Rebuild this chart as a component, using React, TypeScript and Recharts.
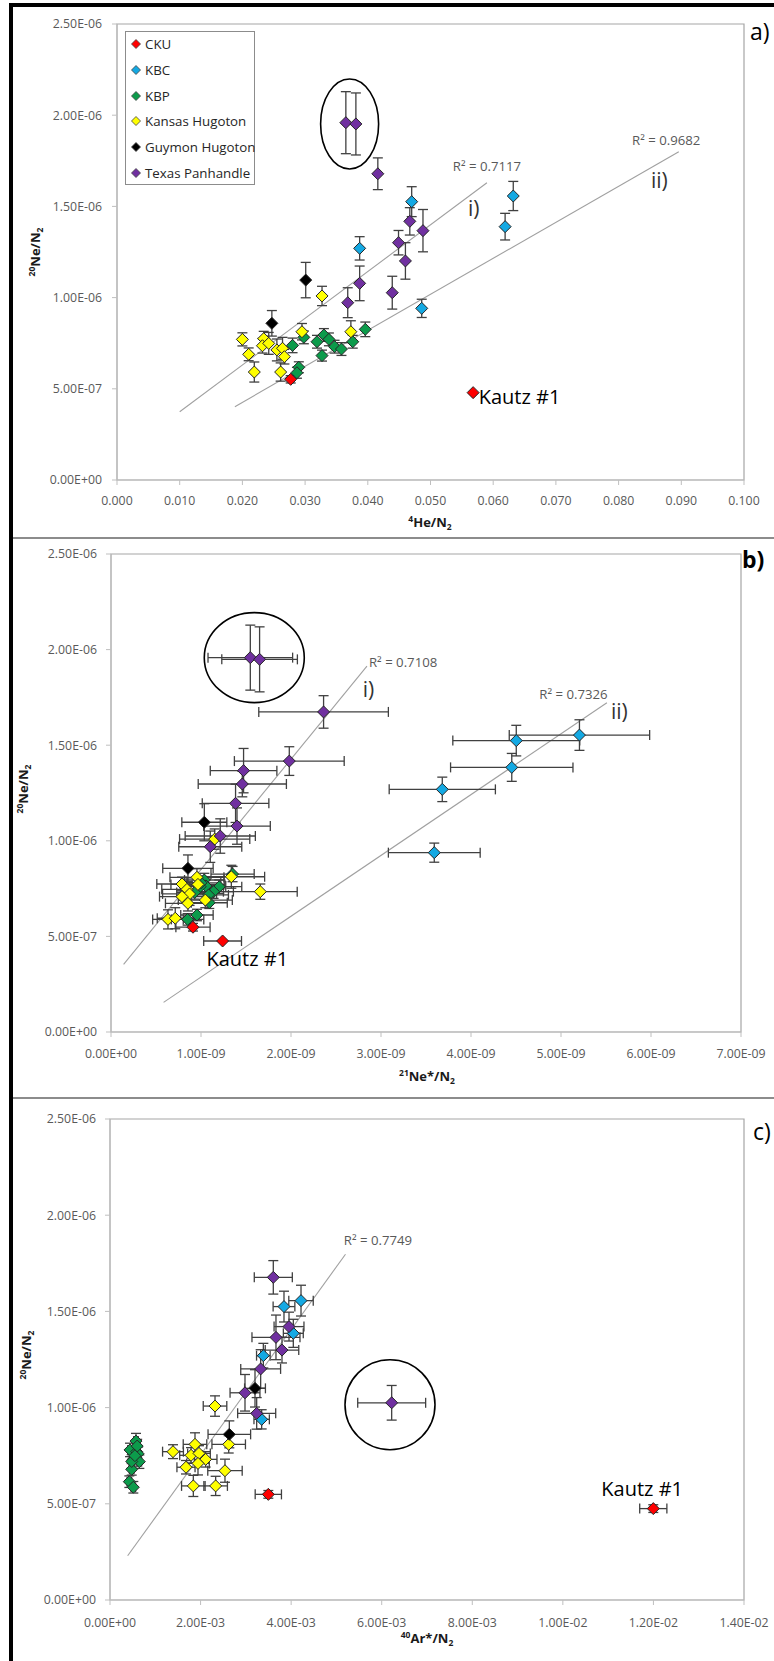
import React from 'react';
import { ScatterChart, Scatter, XAxis, YAxis, ErrorBar, ReferenceLine, ReferenceArea } from 'recharts';

const FONT = "'Open Sans', 'Noto Sans', sans-serif";

// ---------- categories ----------
const SERIES = ['CKU', 'KBC', 'KBP', 'Kansas Hugoton', 'Guymon Hugoton', 'Texas Panhandle'];
const COLORS = ['#ff0000', '#14a9e3', '#0c9b4b', '#ffff00', '#000000', '#7030a0'];

// ---------- tick values ----------
const Y_TICKS = [0, 5e-7, 1e-6, 1.5e-6, 2e-6, 2.5e-6];
const A_X_TICKS = [0, 0.01, 0.02, 0.03, 0.04, 0.05, 0.06, 0.07, 0.08, 0.09, 0.1];
const B_X_TICKS = [0, 1e-9, 2e-9, 3e-9, 4e-9, 5e-9, 6e-9, 7e-9];
const C_X_TICKS = [0, 2e-3, 4e-3, 6e-3, 8e-3, 1e-2, 1.2e-2, 1.4e-2];

// ---------- panel a : [4He/N2, 20Ne/N2 (1e-6), err (1e-6)] ----------
const aCKU = [[0.0277, 0.552, 0.02], [0.0568, 0.479, 0]];
const aKBC = [[0.0387, 1.27, 0.064], [0.047, 1.526, 0.082], [0.0632, 1.557, 0.08], [0.0619, 1.389, 0.073], [0.0486, 0.941, 0.05]];
const aKBP = [[0.028, 0.738, 0.04], [0.029, 0.618, 0.03], [0.0287, 0.588, 0.03], [0.0298, 0.782, 0.035], [0.0319, 0.758, 0.035], [0.0327, 0.682, 0.03], [0.033, 0.795, 0.035], [0.0338, 0.771, 0.035], [0.0347, 0.731, 0.035], [0.0358, 0.718, 0.035], [0.0376, 0.758, 0.035], [0.0396, 0.826, 0.04]];
const aKH = [[0.02, 0.771, 0.036], [0.021, 0.689, 0.035], [0.0219, 0.592, 0.055], [0.0234, 0.775, 0.04], [0.0232, 0.736, 0.04], [0.0242, 0.749, 0.06], [0.0255, 0.713, 0.06], [0.0264, 0.722, 0.06], [0.0267, 0.676, 0.04], [0.0261, 0.592, 0.05], [0.0295, 0.813, 0.045], [0.0327, 1.009, 0.053], [0.0373, 0.813, 0.06]];
const aGH = [[0.0247, 0.859, 0.07], [0.0301, 1.096, 0.097]];
const aTP = [[0.0368, 0.972, 0.082], [0.0387, 1.078, 0.095], [0.0439, 1.027, 0.09], [0.0449, 1.301, 0.067], [0.0467, 1.418, 0.075], [0.0488, 1.367, 0.116], [0.046, 1.201, 0.1], [0.0416, 1.679, 0.087], [0.0365, 1.959, 0.17], [0.0381, 1.952, 0.17]];

// ---------- panel b : [21Ne*/N2 (1e-9), 20Ne/N2 (1e-6), errY (1e-6), errX (1e-9)] ----------
const bCKU = [[0.911, 0.548, 0.02, 0.19], [1.24, 0.476, 0, 0.21]];
const bKBC = [[4.503, 1.524, 0.08, 0.705], [5.205, 1.553, 0.08, 0.78], [4.453, 1.384, 0.073, 0.68], [3.681, 1.269, 0.064, 0.59], [3.592, 0.938, 0.05, 0.51]];
const bKBP = [[1.351, 0.826, 0.04, 0.24], [1.037, 0.795, 0.035, 0.22], [1.055, 0.764, 0.035, 0.22], [1.203, 0.76, 0.035, 0.25], [1.14, 0.734, 0.035, 0.22], [1.085, 0.717, 0.035, 0.22], [1.092, 0.676, 0.03, 0.2], [0.851, 0.589, 0.03, 0.18], [0.955, 0.612, 0.03, 0.18], [0.99, 0.76, 0.035, 0.22], [0.93, 0.73, 0.035, 0.2], [1.0, 0.78, 0.035, 0.22]];
const bKH = [[1.659, 0.734, 0.04, 0.41], [1.337, 0.812, 0.06, 0.37], [1.152, 1.009, 0.053, 0.39], [0.955, 0.809, 0.045, 0.3], [0.789, 0.774, 0.036, 0.28], [0.966, 0.772, 0.04, 0.3], [0.844, 0.746, 0.06, 0.28], [0.873, 0.722, 0.06, 0.3], [0.789, 0.708, 0.035, 0.25], [1.048, 0.69, 0.04, 0.3], [0.855, 0.673, 0.04, 0.25], [0.633, 0.589, 0.05, 0.17], [0.714, 0.595, 0.055, 0.2]];
const bGH = [[1.037, 1.097, 0.097, 0.25], [0.855, 0.856, 0.07, 0.28]];
const bTP = [[1.548, 1.958, 0.17, 0.47], [1.651, 1.949, 0.17, 0.42], [2.362, 1.674, 0.085, 0.72], [1.981, 1.417, 0.075, 0.61], [1.473, 1.367, 0.116, 0.37], [1.459, 1.297, 0.067, 0.49], [1.384, 1.196, 0.1, 0.37], [1.4, 1.077, 0.095, 0.37], [1.214, 1.025, 0.09, 0.39], [1.103, 0.969, 0.082, 0.35]];

// ---------- panel c : [40Ar*/N2 (1e-3), 20Ne/N2 (1e-6), errY (1e-6), errX (1e-3)] ----------
const cCKU = [[3.496, 0.549, 0.02, 0.29], [11.997, 0.475, 0.02, 0.3]];
const cKBC = [[3.842, 1.525, 0.08, 0.24], [4.218, 1.556, 0.08, 0.27], [4.048, 1.386, 0.073, 0.22], [3.386, 1.27, 0.064, 0.15], [3.349, 0.939, 0.05, 0.17]];
const cKBP = [[0.574, 0.826, 0.04, 0.05], [0.442, 0.78, 0.035, 0.05], [0.589, 0.771, 0.035, 0.05], [0.62, 0.76, 0.035, 0.05], [0.515, 0.731, 0.035, 0.05], [0.648, 0.719, 0.035, 0.05], [0.479, 0.679, 0.03, 0.05], [0.427, 0.615, 0.03, 0.05], [0.515, 0.586, 0.03, 0.05], [0.6, 0.8, 0.035, 0.05], [0.48, 0.72, 0.035, 0.05], [0.55, 0.75, 0.035, 0.05]];
const cKH = [[2.319, 1.008, 0.053, 0.26], [2.621, 0.809, 0.045, 0.37], [1.877, 0.809, 0.06, 0.26], [1.391, 0.771, 0.036, 0.23], [1.789, 0.752, 0.04, 0.25], [1.965, 0.762, 0.04, 0.25], [2.112, 0.731, 0.04, 0.25], [1.943, 0.71, 0.06, 0.25], [1.678, 0.69, 0.035, 0.2], [2.539, 0.672, 0.06, 0.38], [1.84, 0.593, 0.055, 0.26], [2.333, 0.593, 0.05, 0.26]];
const cGH = [[3.202, 1.1, 0.097, 0.23], [2.635, 0.861, 0.07, 0.47]];
const cTP = [[3.606, 1.677, 0.087, 0.42], [3.665, 1.365, 0.116, 0.53], [3.953, 1.421, 0.075, 0.33], [3.798, 1.299, 0.067, 0.37], [3.327, 1.201, 0.1, 0.44], [2.981, 1.077, 0.095, 0.33], [3.239, 0.97, 0.082, 0.42], [6.22, 1.025, 0.09, 0.75]];

// ---------- trend lines : [x1, y1(1e-6), x2, y2(1e-6)] ----------
const aTrends = [[0.01, 0.374, 0.059, 1.63], [0.0188, 0.402, 0.0896, 1.8]];
const bTrends = [[0.14, 0.354, 2.844, 1.914], [0.584, 0.155, 5.51, 1.722]];
const cTrends = [[0.39, 0.23, 5.2, 1.797]];

// ---------- annotations : [x, y(1e-6), text, kind] ----------
const aLabels = [[0.059, 1.718, 'R² = 0.7117', 'r2'], [0.0569, 1.49, 'i)', 'roman'], [0.0876, 1.864, 'R² = 0.9682', 'r2'], [0.0865, 1.645, 'ii)', 'roman'], [0.0642, 0.457, 'Kautz #1', 'kautz']];
const bLabels = [[3.246, 1.935, 'R² = 0.7108', 'r2'], [2.861, 1.792, 'i)', 'roman'], [5.138, 1.768, 'R² = 0.7326', 'r2'], [5.649, 1.675, 'ii)', 'roman'], [1.514, 0.383, 'Kautz #1', 'kautz']];
const cLabels = [[5.918, 1.871, 'R² = 0.7749', 'r2'], [11.752, 0.576, 'Kautz #1', 'kautz']];

// circled outliers : [x, y(1e-6)]
const aCircle = [0.0371, 1.952];
const bCircle = [1.592, 1.958];
const cCircle = [6.183, 1.015];

// ---------- helpers ----------
const LABEL_STYLE: Record<string, { fs: number; fill: string }> = {
  r2: { fs: 13.2, fill: '#595959' },
  roman: { fs: 21, fill: '#333333' },
  kautz: { fs: 20, fill: '#000000' },
};

const sci = (v: number) => {
  if (v === 0) return '0.00E+00';
  const [m, e] = v.toExponential(2).split('e');
  const n = parseInt(e, 10);
  return `${m}E${n < 0 ? '-' : '+'}${String(Math.abs(n)).padStart(2, '0')}`;
};
const fixed3 = (v: number) => v.toFixed(3);

const rows = (arr: number[][], xu: number) =>
  arr.map(([x, y, ey, ex]) => ({ x: x * xu, y: y * 1e-6, ey: ey ? ey * 1e-6 : 0, ex: ex ? ex * xu : 0 }));

const diamond = (fill: string, r = 6) => (p: any) => {
  const { cx, cy } = p;
  if (cx == null || cy == null) return <g />;
  return (
    <polygon
      points={`${cx},${cy - r} ${cx + r},${cy} ${cx},${cy + r} ${cx - r},${cy}`}
      fill={fill}
      stroke="#262626"
      strokeWidth={1}
    />
  );
};

const ellipseShape = (rx: number, ry: number) => (p: any) => {
  const { cx, cy } = p;
  if (cx == null || cy == null) return <g />;
  return <ellipse cx={cx} cy={cy} rx={rx} ry={ry} fill="none" stroke="#000" strokeWidth={1.6} />;
};

const textShape = (p: any) => {
  const { cx, cy, payload } = p;
  if (cx == null || cy == null) return <g />;
  const st = LABEL_STYLE[payload.kind];
  return (
    <text x={cx} y={cy + st.fs * 0.36} textAnchor="middle" fontFamily={FONT} fontSize={st.fs} fill={st.fill}>
      {payload.text}
    </text>
  );
};

const TICK = { fill: '#595959', fontSize: 12.3, fontFamily: FONT };

type PanelProps = {
  top: number;
  height: number;
  mt: number;
  mr: number;
  yw: number;
  xh: number;
  xMax: number;
  xu: number;
  xTicks: number[];
  xFmt: (v: number) => string;
  series: number[][][];
  hasEx: boolean;
  trends: number[][];
  labels: any[][];
  circle: number[];
  rx: number;
  ry: number;
  tmX: number;
  tmY: number;
};

function Panel(p: PanelProps) {
  const labelData = p.labels.map(([x, y, text, kind]) => ({ x: x * p.xu, y: y * 1e-6, text, kind }));
  const circleData = [{ x: p.circle[0] * p.xu, y: p.circle[1] * 1e-6 }];
  return (
    <div style={{ position: 'absolute', left: 0, top: p.top, width: 774, height: p.height }}>
      <ScatterChart width={774} height={p.height} margin={{ top: p.mt, right: p.mr, bottom: 0, left: 0 }}>
        <ReferenceArea x1={0} x2={p.xMax} y1={0} y2={2.5e-6} fill="none" stroke="#a6a6a6" strokeWidth={1.2} />
        <XAxis
          type="number"
          dataKey="x"
          domain={[0, p.xMax]}
          ticks={p.xTicks}
          tickFormatter={p.xFmt}
          allowDataOverflow
          interval={0}
          height={p.xh}
          stroke="#bfbfbf"
          tick={TICK}
          tickSize={5}
          tickMargin={p.tmX}
        />
        <YAxis
          type="number"
          dataKey="y"
          domain={[0, 2.5e-6]}
          ticks={Y_TICKS}
          tickFormatter={sci}
          allowDataOverflow
          interval={0}
          width={p.yw}
          stroke="#bfbfbf"
          tick={TICK}
          tickSize={5}
          tickMargin={p.tmY}
        />
        {p.trends.map((t, i) => (
          <ReferenceLine
            key={'t' + i}
            segment={[
              { x: t[0] * p.xu, y: t[1] * 1e-6 },
              { x: t[2] * p.xu, y: t[3] * 1e-6 },
            ]}
            stroke="#a0a0a0"
            strokeWidth={1.1}
          />
        ))}
        {p.series.map((s, i) => (
          <Scatter key={SERIES[i]} name={SERIES[i]} data={rows(s, p.xu)} shape={diamond(COLORS[i])} isAnimationActive={false}>
            <ErrorBar dataKey="ey" direction="y" width={5} stroke="#404040" strokeWidth={1.3} />
            {p.hasEx ? <ErrorBar dataKey="ex" direction="x" width={5} stroke="#404040" strokeWidth={1.3} /> : null}
          </Scatter>
        ))}
        <Scatter data={circleData} shape={ellipseShape(p.rx, p.ry)} isAnimationActive={false} />
        <Scatter data={labelData} shape={textShape} isAnimationActive={false} />
      </ScatterChart>
    </div>
  );
}

const Sup = ({ children }: any) => <span style={{ fontSize: 8.5, verticalAlign: '5px' }}>{children}</span>;
const Sub = ({ children }: any) => <span style={{ fontSize: 8.5, verticalAlign: '-3px' }}>{children}</span>;

const AxisTitle = ({ x, y, rotate, children }: any) => (
  <div
    style={{
      position: 'absolute',
      left: x,
      top: y,
      transform: `translate(-50%, -50%)${rotate ? ' rotate(-90deg)' : ''}`,
      fontFamily: FONT,
      fontWeight: 700,
      fontSize: 13,
      whiteSpace: 'nowrap',
      color: '#1a1a1a',
      lineHeight: 1,
    }}
  >
    {children}
  </div>
);

const Corner = ({ x, y, bold, children }: any) => (
  <div
    style={{
      position: 'absolute',
      left: x,
      top: y,
      transform: 'translateY(-50%)',
      fontFamily: FONT,
      fontWeight: bold ? 700 : 400,
      fontSize: 23,
      lineHeight: 1,
      color: '#000',
    }}
  >
    {children}
  </div>
);

function LegendBox() {
  return (
    <div
      style={{
        position: 'absolute',
        left: 125,
        top: 31,
        width: 130,
        height: 154,
        border: '1px solid #8c8c8c',
        background: '#fff',
        boxSizing: 'border-box',
      }}
    >
      {SERIES.map((s, i) => (
        <div
          key={s}
          style={{ position: 'absolute', left: 4, top: 12.3 + i * 25.7 - 9, height: 18, display: 'flex', alignItems: 'center' }}
        >
          <svg width={12} height={12} style={{ display: 'block' }}>
            <polygon points="6,1.5 10.5,6 6,10.5 1.5,6" fill={COLORS[i]} stroke="#404040" strokeWidth={0.8} />
          </svg>
          <span style={{ marginLeft: 3, fontFamily: FONT, fontSize: 13.3, color: '#262626', whiteSpace: 'nowrap' }}>{s}</span>
        </div>
      ))}
    </div>
  );
}

export default function App() {
  return (
    <div style={{ position: 'absolute', left: 0, top: 0, width: 774, height: 1661, background: '#fff', overflow: 'hidden' }}>
      <Panel
        top={0}
        height={540}
        mt={24}
        mr={30}
        yw={117}
        xh={60}
        xMax={0.1}
        xu={1}
        xTicks={A_X_TICKS}
        xFmt={fixed3}
        series={[aCKU, aKBC, aKBP, aKH, aGH, aTP]}
        hasEx={false}
        trends={aTrends}
        labels={aLabels}
        circle={aCircle}
        rx={29}
        ry={45}
        tmX={11}
        tmY={10}
      />
      <Panel
        top={538}
        height={560}
        mt={16}
        mr={33}
        yw={111}
        xh={66}
        xMax={7e-9}
        xu={1e-9}
        xTicks={B_X_TICKS}
        xFmt={sci}
        series={[bCKU, bKBC, bKBP, bKH, bGH, bTP]}
        hasEx={true}
        trends={bTrends}
        labels={bLabels}
        circle={bCircle}
        rx={50}
        ry={45}
        tmX={12.5}
        tmY={9}
      />
      <Panel
        top={1097}
        height={564}
        mt={22}
        mr={30}
        yw={110}
        xh={61}
        xMax={1.4e-2}
        xu={1e-3}
        xTicks={C_X_TICKS}
        xFmt={sci}
        series={[cCKU, cKBC, cKBP, cKH, cGH, cTP]}
        hasEx={true}
        trends={cTrends}
        labels={cLabels}
        circle={cCircle}
        rx={45}
        ry={45}
        tmX={13}
        tmY={9}
      />

      <LegendBox />

      <AxisTitle x={430} y={523}>
        <Sup>4</Sup>He/N<Sub>2</Sub>
      </AxisTitle>
      <AxisTitle x={36} y={252} rotate>
        <Sup>20</Sup>Ne/N<Sub>2</Sub>
      </AxisTitle>
      <AxisTitle x={427} y={1077}>
        <Sup>21</Sup>Ne*/N<Sub>2</Sub>
      </AxisTitle>
      <AxisTitle x={24} y={789} rotate>
        <Sup>20</Sup>Ne/N<Sub>2</Sub>
      </AxisTitle>
      <AxisTitle x={427} y={1639}>
        <Sup>40</Sup>Ar*/N<Sub>2</Sub>
      </AxisTitle>
      <AxisTitle x={27} y={1355} rotate>
        <Sup>20</Sup>Ne/N<Sub>2</Sub>
      </AxisTitle>

      <Corner x={750} y={31}>a)</Corner>
      <Corner x={742} y={559} bold>b)</Corner>
      <Corner x={753} y={1131}>c)</Corner>

      {/* figure frame */}
      <div style={{ position: 'absolute', left: 9, top: 3, width: 765, height: 4, background: '#000' }} />
      <div style={{ position: 'absolute', left: 9, top: 3, width: 4, height: 1658, background: '#000' }} />
      <div style={{ position: 'absolute', left: 13, top: 537, width: 761, height: 2, background: '#8c8c8c' }} />
      <div style={{ position: 'absolute', left: 13, top: 1097, width: 761, height: 2, background: '#8c8c8c' }} />
    </div>
  );
}
